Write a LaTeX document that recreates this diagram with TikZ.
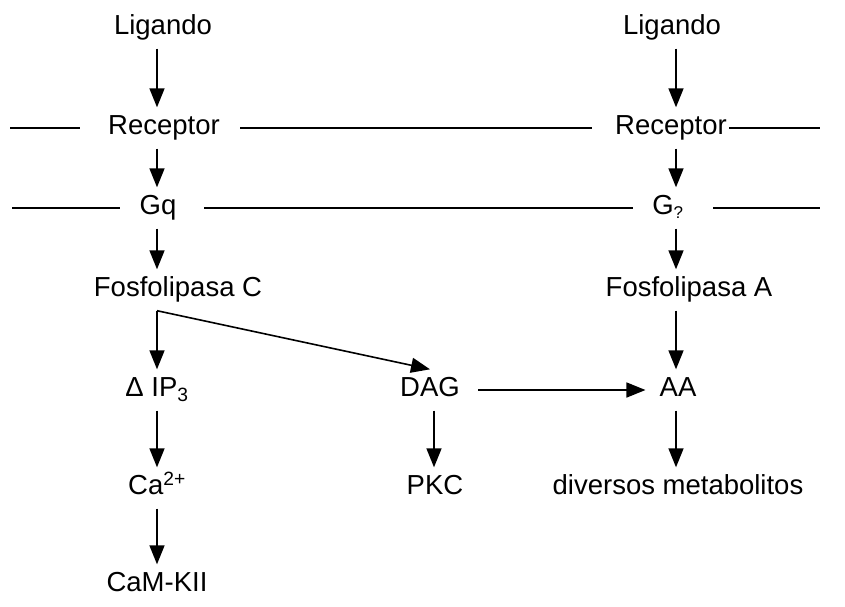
\documentclass[tikz,border=0pt]{standalone}
\usepackage{fontspec}
\setmainfont{Liberation Sans}
\usetikzlibrary{arrows.meta}
\begin{document}
\begin{tikzpicture}[x=1pt,y=-1pt,
  lbl/.style={font=\fontsize{27.5}{32}\selectfont, inner xsep=0pt, inner ysep=8pt,
              text height=19pt, text depth=6pt},
  arr/.style={line width=1.6pt, -{Triangle[length=19pt,width=15pt]}},
  memb/.style={line width=1.6pt}]
\useasboundingbox (0,0) rectangle (845,606);

% column guides for the arrows
\coordinate (colA) at (157,0);
\coordinate (colD) at (434,0);
\coordinate (colB) at (676,0);

% left pathway
\node[lbl] (lig1) at (163,28) {Ligando};
\node[lbl] (rec1) at (164,128) {Receptor};
\node[lbl] (gq)   at (158,208) {Gq};
\node[lbl] (fosC) at (178,290) {Fosfolipasa C};
\node[lbl] (ip3)  at (157,390) {Δ IP\textsubscript{3}};
\node[lbl] (ca)   at (157,488) {Ca\textsuperscript{2+}};
\node[lbl] (cam)  at (157,585) {CaM-KII};
\node[lbl] (dag)  at (430,390) {DAG};
\node[lbl] (pkc)  at (435,488) {PKC};

% right pathway
\node[lbl] (lig2) at (672,28) {Ligando};
\node[lbl] (rec2) at (671,128) {Receptor};
\node[lbl] (gx)   at (668,208) {G\textsubscript{\fontsize{17}{20}\selectfont ?}};
\node[lbl] (fosA) at (689,290) {Fosfolipasa A};
\node[lbl] (aa)   at (678,390) {AA};
\node[lbl] (met)  at (678,488) {diversos metabolitos};

% membrane lines
\coordinate (m1a) at (10,128);  \coordinate (m1b) at (80,128);
\coordinate (m1c) at (240,128); \coordinate (m1d) at (592,128);
\coordinate (m1e) at (729,128); \coordinate (m1f) at (820,128);
\coordinate (m2a) at (12,208);  \coordinate (m2b) at (120,208);
\coordinate (m2c) at (204,208); \coordinate (m2d) at (633,208);
\coordinate (m2e) at (713,208); \coordinate (m2f) at (820,208);
\draw[memb] (m1a) -- (m1b) (m1c) -- (m1d) (m1e) -- (m1f);
\draw[memb] (m2a) -- (m2b) (m2c) -- (m2d) (m2e) -- (m2f);

% left cascade
\draw[arr] (lig1.south -| colA) -- (rec1.north -| colA);
\draw[arr] (rec1.south -| colA) -- (gq.north -| colA);
\draw[arr] (gq.south -| colA) -- (fosC.north -| colA);
\coordinate (split) at (fosC.south -| colA);
\draw[arr] (split) -- (ip3.north -| colA);
\draw[arr] (split) -- (dag.north);
\draw[arr] (ip3.south -| colA) -- (ca.north -| colA);
\draw[arr] (ca.south -| colA) -- (cam.north -| colA);
\draw[arr] (dag.south -| colD) -- (pkc.north -| colD);
\draw[arr] ([xshift=18pt]dag.east) -- ([xshift=-14pt]aa.west);

% right cascade
\draw[arr] (lig2.south -| colB) -- (rec2.north -| colB);
\draw[arr] (rec2.south -| colB) -- (gx.north -| colB);
\draw[arr] (gx.south -| colB) -- (fosA.north -| colB);
\draw[arr] (fosA.south -| colB) -- (aa.north -| colB);
\draw[arr] (aa.south -| colB) -- (met.north -| colB);
\end{tikzpicture}
\end{document}
